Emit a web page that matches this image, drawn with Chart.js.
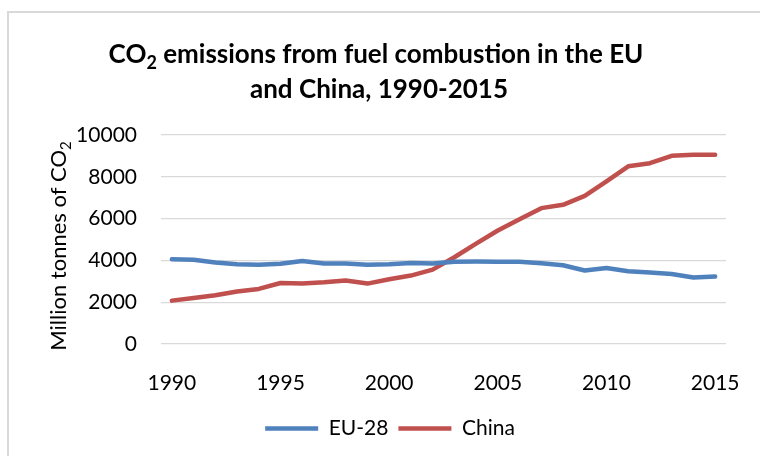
<!DOCTYPE html>
<html>
<head>
<meta charset="utf-8">
<title>CO2 emissions EU vs China</title>
<script src="https://cdn.jsdelivr.net/npm/chart.js@4/dist/chart.umd.min.js"></script>
<style>
  html, body { margin: 0; padding: 0; background: #fff; }
  #wrap { position: relative; width: 760px; height: 456px; }
</style>
</head>
<body>
<div id="wrap"><canvas id="co2Chart" width="760" height="456"></canvas></div>
<script>
// years and emissions (million tonnes of CO2)
const years = [1990, 1991, 1992, 1993, 1994, 1995, 1996, 1997, 1998, 1999, 2000, 2001, 2002,
               2003, 2004, 2005, 2006, 2007, 2008, 2009, 2010, 2011, 2012, 2013, 2014, 2015];
const eu28 = [4055, 4030, 3900, 3815, 3790, 3840, 3975, 3850, 3850, 3790, 3815, 3880, 3850,
              3940, 3950, 3940, 3930, 3860, 3770, 3515, 3640, 3480, 3420, 3350, 3180, 3230];
const china = [2075, 2200, 2330, 2510, 2635, 2920, 2900, 2950, 3035, 2890, 3100, 3275, 3560,
               4150, 4800, 5430, 5970, 6500, 6660, 7090, 7780, 8500, 8650, 9005, 9055, 9055];
const yTicks = [0, 2000, 4000, 6000, 8000, 10000];

const FONT = 'Lato, Carlito, Calibri, "Open Sans", sans-serif';

// draws a run of text pieces, where pieces marked sub are smaller and lowered
function richWidth(ctx, parts, size, weight) {
    let w = 0;
    parts.forEach(p => {
        ctx.font = weight + ' ' + (p.sub ? Math.round(size * 0.68) : size) + 'px ' + FONT;
        w += ctx.measureText(p.t).width;
    });
    return w;
}
function drawRich(ctx, parts, x, y, size, weight) {
    parts.forEach(p => {
        const s = p.sub ? Math.round(size * 0.68) : size;
        ctx.font = weight + ' ' + s + 'px ' + FONT;
        ctx.fillText(p.t, x, p.sub ? y + size * 0.22 : y);
        x += ctx.measureText(p.t).width;
    });
}

const decorations = {
    id: 'decorations',
    afterLayout(chart) {
        // push the legend a little right of the layout centre
        chart.legend.left += 27;
        chart.legend.right += 27;
    },
    beforeDraw(chart) {
        const ctx = chart.ctx;
        ctx.save();
        ctx.fillStyle = '#d9d9d9';
        ctx.fillRect(7, 11, 760, 2);
        ctx.fillRect(7, 11, 2, 456);
        ctx.restore();
    },
    afterDraw(chart) {
        const ctx = chart.ctx;
        ctx.save();
        ctx.fillStyle = '#000';
        ctx.textBaseline = 'alphabetic';
        ctx.textAlign = 'left';

        // title, two lines
        const line1 = [{ t: 'CO' }, { t: '2', sub: true }, { t: ' emissions from fuel combustion in the EU' }];
        const line2 = [{ t: 'and China, 1990-2015' }];
        const cx = 376;
        let w = richWidth(ctx, line1, 26, 'bold');
        drawRich(ctx, line1, cx - w / 2, 63, 26, 'bold');
        w = richWidth(ctx, line2, 26, 'bold');
        drawRich(ctx, line2, cx - w / 2 + 3, 98, 26, 'bold');

        // y axis title, rotated
        const yTitle = [{ t: 'Million tonnes of CO' }, { t: '2', sub: true }];
        w = richWidth(ctx, yTitle, 22, 'normal');
        ctx.translate(66, 246);
        ctx.rotate(-Math.PI / 2);
        drawRich(ctx, yTitle, -w / 2, 0, 22, 'normal');
        ctx.restore();
    }
};

const ctx = document.getElementById('co2Chart').getContext('2d');
const co2Chart = new Chart(ctx, {
    type: 'line',
    data: {
        labels: years,
        datasets: [{
            label: 'EU-28',
            data: eu28,
            borderColor: '#4f81bd',
            backgroundColor: '#4f81bd',
            borderWidth: 4.5,
            borderCapStyle: 'round',
            borderJoinStyle: 'round',
            pointRadius: 0,
            tension: 0,
            fill: false
        }, {
            label: 'China',
            data: china,
            borderColor: '#c0504d',
            backgroundColor: '#c0504d',
            borderWidth: 4.5,
            borderCapStyle: 'round',
            borderJoinStyle: 'round',
            pointRadius: 0,
            tension: 0,
            fill: false
        }]
    },
    options: {
        responsive: false,
        animation: false,
        layout: { padding: { left: 0, right: 34, top: 135, bottom: 7 } },
        plugins: {
            title: { display: false },
            tooltip: { enabled: false },
            legend: {
                position: 'bottom',
                labels: {
                    usePointStyle: true,
                    pointStyle: 'line',
                    pointStyleWidth: 53,
                    boxHeight: 4,
                    padding: 10,
                    color: '#000',
                    font: { family: FONT, size: 21 }
                }
            }
        },
        scales: {
            x: {
                offset: true,
                grid: { display: false },
                border: { display: false },
                afterFit(scale) { scale.height = 64; },
                ticks: {
                    autoSkip: false,
                    maxRotation: 0,
                    padding: 19,
                    color: '#000',
                    font: { family: FONT, size: 21 },
                    callback(value, index) {
                        return years[index] % 5 === 0 ? String(years[index]) : '';
                    }
                }
            },
            y: {
                min: yTicks[0],
                max: yTicks[yTicks.length - 1],
                afterFit(scale) { scale.width = 161; },
                afterBuildTicks(scale) { scale.ticks = yTicks.map(v => ({ value: v })); },
                grid: { color: '#d9d9d9', lineWidth: 1.3, drawTicks: false },
                border: { display: false },
                ticks: {
                    padding: 24,
                    color: '#000',
                    font: { family: FONT, size: 21 },
                    callback(value) { return String(value); }
                }
            }
        }
    },
    plugins: [decorations]
});
</script>
</body>
</html>
